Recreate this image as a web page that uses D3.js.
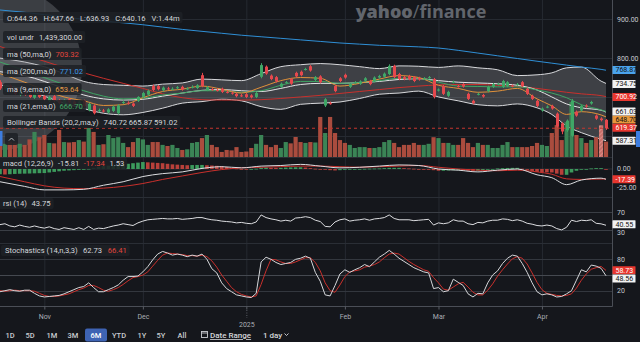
<!DOCTYPE html>
<html><head><meta charset="utf-8">
<script src="https://cdn.jsdelivr.net/npm/d3@7"></script>
<style>body{margin:0;background:#15171c;overflow:hidden}svg{display:block}</style>
</head><body>
<script>
// ---------------- DATA ----------------
const dates = ["2024-10-21","2024-10-22","2024-10-23","2024-10-24","2024-10-25","2024-10-28","2024-10-29","2024-10-30","2024-10-31",
"2024-11-01","2024-11-04","2024-11-05","2024-11-06","2024-11-07","2024-11-08","2024-11-11","2024-11-12","2024-11-13","2024-11-14","2024-11-15","2024-11-18","2024-11-19","2024-11-20","2024-11-21","2024-11-22","2024-11-25","2024-11-26","2024-11-27","2024-11-29",
"2024-12-02","2024-12-03","2024-12-04","2024-12-05","2024-12-06","2024-12-09","2024-12-10","2024-12-11","2024-12-12","2024-12-13","2024-12-16","2024-12-17","2024-12-18","2024-12-19","2024-12-20","2024-12-23","2024-12-24","2024-12-26","2024-12-27","2024-12-30","2024-12-31",
"2025-01-02","2025-01-03","2025-01-06","2025-01-07","2025-01-08","2025-01-10","2025-01-13","2025-01-14","2025-01-15","2025-01-16","2025-01-17","2025-01-21","2025-01-22","2025-01-23","2025-01-24","2025-01-27","2025-01-28","2025-01-29","2025-01-30","2025-01-31",
"2025-02-03","2025-02-04","2025-02-05","2025-02-06","2025-02-07","2025-02-10","2025-02-11","2025-02-12","2025-02-13","2025-02-14","2025-02-18","2025-02-19","2025-02-20","2025-02-21","2025-02-24","2025-02-25","2025-02-26","2025-02-27","2025-02-28",
"2025-03-03","2025-03-04","2025-03-05","2025-03-06","2025-03-07","2025-03-10","2025-03-11","2025-03-12","2025-03-13","2025-03-14","2025-03-17","2025-03-18","2025-03-19","2025-03-20","2025-03-21","2025-03-24","2025-03-25","2025-03-26","2025-03-27","2025-03-28","2025-03-31",
"2025-04-01","2025-04-02","2025-04-03","2025-04-04","2025-04-07","2025-04-08","2025-04-09","2025-04-10","2025-04-11","2025-04-14","2025-04-15","2025-04-16","2025-04-17","2025-04-21"];

const open = [738,720,730,716,705,718,707,698,712,702, 690,702,692,683,694,688,678,690,666,678, 664,665,660,664,658,686,685,683,690,700,
706,728,728,717,722,721,723,726,721,725, 723,756,718,720,718,721,713,711,708,704, 707,704,700,752,778,755,751,726,737,746,
762,765,771,779,744,753,678,684,728,748, 757,726,737,734,742,741,740,750,752,759, 780,759,751,754,751,749,747,750,746,717,
728,703,738,728,733,708,690,707,705,715, 726,733,726,728,729,732,738,721,703,690, 665,674,677,657,632,614,600,662,665,678,
683,652,644.36,641];
const high = [743,731,733,720,719,721,710,711,714,706, 703,705,695,695,697,691,691,693,685,681, 670,669,671,678,681,691,689,686,702,713,
719,732,731,727,726,725,728,729,725,730, 733,762,728,724,722,724,717,714,711,708, 710,707,713,787,781,758,754,737,741,749,
765,768,775,782,754,756,697,688,731,751, 760,736,741,743,751,744,753,757,763,784, 783,762,754,757,754,752,751,754,749,722,
731,716,742,731,736,711,693,711,708,729, 736,737,744,741,732,736,741,724,706,693, 673,678,680,660,635,642,695,665,680,681,
690,655,647.66,643];
const low = [718,716,712,705,702,703,697,695,697,690, 687,687,681,680,683,677,675,673,663,655, 660,660,657,661,655,682,680,674,687,697,
703,715,717,714,718,717,720,716,718,722, 720,725,715,716,714,710,709,706,699,700, 697,696,697,748,757,743,737,723,734,731,
750,753,768,765,741,735,674,680,712,738, 747,723,734,731,739,730,737,747,749,756, 748,743,743,743,738,742,744,747,696,714,
705,700,735,724,724,692,681,704,698,712, 723,730,723,725,725,729,725,705,692,674, 662,671,667,621,604,610,597,649,662,672,
680,641,636.93,615];
const close = [722,728,715,708,716,706,700,708,700,694, 700,690,684,692,686,680,688,676,682,658, 666,663,668,675,678,687,683,677,700,710,
716,718,720,724,721,721,725,719,722,726, 730,728,725,719,717,713,712,709,702,703, 700,699,710,782,760,746,740,734,738,734,
753,756,772,768,751,738,694,683,715,741, 750,733,738,740,748,733,750,754,760,780, 751,746,746,746,741,745,748,751,700,719,
708,713,739,727,727,695,684,708,701,726, 733,734,741,738,728,733,728,708,695,677, 670,675,670,624,611,639,690,652,677,675,
687,644,640.16,619.37];
// volume in millions
const volume = [0.77,0.6,0.7,0.65,0.6,0.55,0.8,1.14,0.9,1.0, 0.64,0.62,1.23,0.68,0.66,0.68,0.77,0.7,1.32,1.14, 0.55,0.58,1.0,0.86,0.9,0.64,0.45,0.68,0.86,0.8,
0.55,0.68,0.68,0.55,0.5,0.55,0.41,0.32,0.35,0.64, 0.68,0.86,1.0,0.55,0.45,0.23,0.32,0.3,0.45,0.23, 0.25,0.41,0.6,1.0,0.55,0.45,0.55,0.41,0.68,0.62,
0.91,0.68,0.64,0.68,0.66,1.82,1.09,1.82,1.09,0.77, 0.64,0.55,0.41,0.45,0.45,0.41,0.41,0.45,0.68,0.77, 0.64,0.45,0.55,0.55,0.64,0.55,0.55,0.6,0.9,0.86,
0.64,0.64,0.55,0.55,0.86,0.64,0.45,0.64,0.55,0.55, 0.41,0.41,0.55,0.68,0.45,0.45,0.45,0.45,0.5,0.64, 0.55,0.5,1.09,1.45,0.77,1.59,2.5,1.0,0.86,0.64,
0.77,0.9,1.44,0.7];

// smooth overlay lines, read at these candle indices
const sIdx  = [0,5,9,13,17,21,25,29,33,37,41,45,49,53,57,61,65,69,73,77,81,85,89,93,97,101,105,109,112,115,118,122,123];
const ma200 = [924,918,912,906,900,895,891,886,880,874,869,864,859,855,851,847,843,839,836,833,831,829,826,820,813,806,799,792,787,782,777,771.02,768.87];
const ma50  = [830,808,792,776,762,748,735,722,708,698,693,692,692,693,696,700,704,709,714,719,724,728,731,732,732,730,727,722,717,712,708,703.32,700.92];
const ema9  = [760,738,718,700,690,678,680,698,714,720,728,720,710,725,742,750,748,728,735,746,755,750,730,722,712,715,722,695,677,655,662,653.64,648.70];
const ema21 = [790,768,750,732,716,702,695,697,705,710,716,716,712,716,730,740,740,735,737,742,748,748,738,728,727,726,726,718,710,698,680,666.70,662.4];
const bbUpper = [800,790,778,760,740,732,730,728,733,736,746,744,742,760,778,783,786,783,778,773,780,779,776,780,775,770,755,757,762,775,777,740.72,734.75];
const bbMid   = [765,755,740,722,705,695,692,694,702,710,717,719,716,714,722,732,735,735,737,740,745,747,742,738,736,734,730,718,700,682,672,665.87,661.03];
const bbLower = [730,720,702,684,670,658,654,660,671,684,688,694,690,675,668,681,684,687,696,707,710,715,700,690,680,677,682,672,655,625,608,591.02,587.31];
const macdLine   = [-22,-30,-36,-36,-35,-28,-22,-13,-8,-5,1,4,2,5,6,8,5,2,3,5,7,6,0,-2,-5,-2,0,-10,-15,-27,-19,-15.81,-17.6];
const signalLine = [-13,-22,-29,-33,-34,-33,-30,-25,-18,-12,-6,-1,2,3,4,5,5,4,3,4,5,6,3,0,-2,-3,-2,-5,-9,-17,-18,-17.34,-17.39];
const macdHist = [-9,-9.5,-9,-8.5,-8.2,-8,-7.8,-7.5,-7.2,-7, -6,-5,-4,-3,-2.5,-2,-1.5,-1,0.5,2, 3.5,5,5.8,6.5,7.2,8,9,10,11,12,
11.5,11,10.5,10,9,8,7.5,7,6.5,6.8, 7,7,6.5,6,5.5,5,3.5,2,1,0, -0.5,-0.5,0.5,2,2.5,2.2,2,2,2.5,2.8, 3,3,2.5,1.5,0.5,0,-1,-2,-2.5,-2,
-1.5,-1,-0.5,0,0.3,0.6,0.8,1,1.5,2, 2,2,1.5,1,0.5,0,-0.5,-1,-2,-3, -3,-2.5,-2,-2,-2.5,-3,-3.2,-3,-2,-1, 0,1,1.5,1.8,2,2,0.5,-1.5,-3.5,-5,
-5.5,-5.8,-6,-8,-10,-10,-6,-3,-1,0, 1,1.5,1.53,-0.21];
const rsi = [42,44,39,37,41,38,36,39,36,34, 37,33,31,35,33,31,35,31,38,31, 34,33,36,39,41,44,42,40,46,50, 53,54,55,56,55,55,56,54,55,56,
58,58,55,53,52,50,49,48,46,47, 45,44,48,64,58,55,53,50,52,50, 57,58,60,58,52,49,38,37,48,53, 55,50,52,53,55,52,55,56,58,64,
56,53,53,53,51,52,53,54,41,46, 44,46,53,50,50,44,42,47,46,50, 52,52,55,54,51,53,50,45,43,40, 39,41,39,33,30,36,52,49,52,51,
53,45,43.75,40.55];
const stochK = [18,20,22,20,19,21,21,15,10,8, 9,10,11,14,18,22,26,28,35,26, 18,18,22,26,31,40,47,47,48,56, 66,79,90,95,92,88,90,88,85,88,
86,90,80,62,54,35,24,18,12,10, 8,7,15,75,84,80,74,70,72,74, 80,82,86,82,55,38,12,10,30,52, 60,55,60,64,70,66,75,84,90,97,
90,82,76,70,64,60,56,54,24,26, 18,20,42,36,30,14,8,15,14,35, 50,58,72,82,88,86,72,55,35,18, 12,14,12,8,9,14,20,40,60,56,
69,67,62.73,48.56];
const stochD = [20,19,20,21,20,20,20,19,15,11, 9,9,10,12,14,18,22,25,30,30, 26,21,19,22,26,32,39,45,47,50, 56,67,78,88,92,91,90,89,87,87,
86,88,85,77,65,50,38,26,18,13, 10,8,10,32,58,80,79,75,72,72, 75,79,83,83,74,58,35,20,17,31, 47,56,58,60,65,67,70,75,83,90,
92,90,83,76,70,65,60,57,45,35, 23,21,27,33,36,27,17,12,12,21, 33,48,60,71,81,85,82,71,54,36, 22,15,13,11,10,11,14,25,40,52,
61,64,66.41,58.73];

const monthTicks = ["2024-11-01","2024-12-02","2025-01-02","2025-02-03","2025-03-03","2025-04-01"];
const monthLabels = ["Nov","Dec","2025","Feb","Mar","Apr"];
const priceTicks = [900, 800];
const lastPrice = 619.37;
const rangeButtons = ["1D","5D","1M","3M","6M","YTD","1Y","5Y","All"];

// ---------------- CHART ----------------
const FONT = "Roboto, 'Liberation Sans', 'DejaVu Sans', sans-serif";
const svg = d3.select("body").append("svg").attr("width",640).attr("height",342)
  .style("font-family", FONT);
svg.append("rect").attr("width",640).attr("height",342).attr("fill","#15171c");

const PR = 612; // plot right edge
const x = d3.scalePoint().domain(dates).range([0, 606]);
const yP = d3.scaleLinear().domain([600, 900]).range([135.76, 19.3]);
const yV = d3.scaleLinear().domain([0, 2.5]).range([157, 102]);
const yM = d3.scaleLinear().domain([-40, 20]).range([192.2, 157.4]);
const yR = d3.scaleLinear().domain([30, 70]).range([229.9, 212.3]);
const yS = d3.scaleLinear().domain([20, 80]).range([290.7, 259.3]);

const defs = svg.append("defs");
function clip(id, y0, h){ defs.append("clipPath").attr("id",id).append("rect").attr("x",0).attr("y",y0).attr("width",PR).attr("height",h); }
clip("cp",0,157); clip("cm",157,40); clip("cr",197,46); clip("cs",243,63);
const pat = defs.append("pattern").attr("id","hatch").attr("width",3).attr("height",3).attr("patternUnits","userSpaceOnUse").attr("patternTransform","rotate(45)");
pat.append("rect").attr("width",3).attr("height",3).attr("fill","#c9706a");
pat.append("line").attr("x1",0).attr("y1",0).attr("x2",0).attr("y2",3).attr("stroke","#e8a19b").attr("stroke-width",1.2);

// grid
const grid = svg.append("g");
grid.selectAll("line.v").data(monthTicks).join("line")
  .attr("x1",d=>x(d)+0.5).attr("x2",d=>x(d)+0.5).attr("y1",0).attr("y2",306)
  .attr("stroke","#262a31").attr("stroke-width",1);
grid.selectAll("line.h").data([900,800,700,600]).join("line")
  .attr("x1",0).attr("x2",PR).attr("y1",d=>Math.round(yP(d))+0.5).attr("y2",d=>Math.round(yP(d))+0.5)
  .attr("stroke","#262a31");
[157.5,197.5,243.5].forEach(y=>svg.append("line").attr("x1",0).attr("x2",PR).attr("y1",y).attr("y2",y).attr("stroke","#2a2e35"));

// ---------- price panel ----------
const gp = svg.append("g").attr("clip-path","url(#cp)");
const sPts = (arr)=> sIdx.map((k,j)=>[x(dates[k]), arr[j]]);
const areaBB = d3.area().x((d,j)=>x(dates[sIdx[j]])).y0((d,j)=>yP(bbLower[j])).y1((d,j)=>yP(bbUpper[j])).curve(d3.curveMonotoneX);
gp.append("path").datum(sIdx).attr("d",areaBB).attr("fill","rgba(130,132,138,0.38)");
const lineS = (y)=> d3.line().x(d=>d[0]).y(d=>y(d[1])).curve(d3.curveMonotoneX);
[[bbUpper,"#d8d9dc"],[bbLower,"#d8d9dc"]].forEach(([a,c])=>gp.append("path").attr("d",lineS(yP)(sPts(a))).attr("fill","none").attr("stroke",c).attr("stroke-width",1));

// circular lens overlay
gp.append("circle").attr("cx",0).attr("cy",68).attr("r",82).attr("fill","rgba(150,152,158,0.3)");

// volume
const bw = 4.2;
gp.selectAll("rect.vol").data(dates).join("rect")
  .attr("x",d=>x(d)-bw/2).attr("width",bw)
  .attr("y",(d,i)=>yV(volume[i])).attr("height",(d,i)=>157-yV(volume[i]))
  .attr("fill",(d,i)=> i===122 ? "url(#hatch)" : (close[i]>=open[i] ? "#3b8556" : "#aa4c3e"));

gp.append("line").attr("x1",0).attr("x2",PR).attr("y1",yP(lastPrice)).attr("y2",yP(lastPrice))
  .attr("stroke","#c7362f").attr("stroke-dasharray","3,3").attr("stroke-width",1);

[[ma200,"#2f8fd6"],[ma50,"#c9302c"],[bbMid,"#e4e4e6"],[ema21,"#3fa564"],[ema9,"#e0913a"]]
  .forEach(([a,c])=>gp.append("path").attr("d",lineS(yP)(sPts(a))).attr("fill","none").attr("stroke",c).attr("stroke-width",1));

const cg = gp.append("g");
dates.forEach((d,i)=>{
  const up = close[i]>=open[i];
  const col = up ? "#3fa766" : "#e5484d";
  const cx = Math.round(x(d))+0.5;
  cg.append("line").attr("x1",cx).attr("x2",cx).attr("y1",yP(high[i])).attr("y2",yP(low[i])).attr("stroke",col).attr("stroke-width",1);
  const y1 = yP(Math.max(open[i],close[i])), y2 = yP(Math.min(open[i],close[i]));
  cg.append("rect").attr("x",cx-1.5).attr("width",3).attr("y",y1).attr("height",Math.max(1,y2-y1)).attr("fill",col);
});

// ---------- MACD ----------
const gm = svg.append("g").attr("clip-path","url(#cm)");
gm.append("line").attr("x1",0).attr("x2",PR).attr("y1",yM(0)).attr("y2",yM(0)).attr("stroke","#2a2e35");
gm.selectAll("rect").data(dates).join("rect")
  .attr("x",d=>x(d)-1.8).attr("width",3.6)
  .attr("y",(d,i)=>Math.min(yM(0),yM(macdHist[i]))).attr("height",(d,i)=>Math.max(0.8,Math.abs(yM(macdHist[i])-yM(0))))
  .attr("fill",(d,i)=> (i===0 || macdHist[i]>=macdHist[i-1]) ? "#3c9a5c" : "#b8403a");
gm.append("path").attr("d",lineS(yM)(sPts(signalLine))).attr("fill","none").attr("stroke","#c9302c").attr("stroke-width",1);
gm.append("path").attr("d",lineS(yM)(sPts(macdLine))).attr("fill","none").attr("stroke","#dcdde0").attr("stroke-width",1);

// ---------- RSI ----------
const gr = svg.append("g").attr("clip-path","url(#cr)");
[70,30].forEach(v=>gr.append("line").attr("x1",0).attr("x2",PR).attr("y1",Math.round(yR(v))+0.5).attr("y2",Math.round(yR(v))+0.5).attr("stroke","#3a3e45"));
const lineI = (y)=> d3.line().x((d,i)=>x(dates[i])).y(d=>y(d));
gr.append("path").attr("d",lineI(yR)(rsi)).attr("fill","none").attr("stroke","#dcdde0").attr("stroke-width",1);

// ---------- Stochastics ----------
const gs = svg.append("g").attr("clip-path","url(#cs)");
[80,50,20].forEach(v=>gs.append("line").attr("x1",0).attr("x2",PR).attr("y1",Math.round(yS(v))+0.5).attr("y2",Math.round(yS(v))+0.5).attr("stroke",v===50?"#454950":"#33373e"));
gs.append("path").attr("d",lineI(yS)(stochD)).attr("fill","none").attr("stroke","#c9302c").attr("stroke-width",1);
gs.append("path").attr("d",lineI(yS)(stochK)).attr("fill","none").attr("stroke","#d6d7da").attr("stroke-width",1);

// ---------- axes frame ----------
svg.append("line").attr("x1",PR+0.5).attr("x2",PR+0.5).attr("y1",0).attr("y2",306.5).attr("stroke","#4a4e56");
svg.append("line").attr("x1",0).attr("x2",PR+0.5).attr("y1",306.5).attr("y2",306.5).attr("stroke","#4a4e56");

const axT = (txt,y)=> svg.append("text").attr("x",617).attr("y",y).attr("dy","0.35em").attr("font-size",7).attr("fill","#c6c9ce").text(txt);
priceTicks.forEach(p=>axT(d3.format(".2f")(p), yP(p)));
axT("0.00", yM(0)); axT("-25.00", 187.5);
axT("70", yR(70)); axT("30", 232.5);
axT("80", yS(80)); axT("20", yS(20));

function badge(y, txt, bg, fg){
  svg.append("rect").attr("x",612.5).attr("y",y-4).attr("width",23).attr("height",8).attr("fill",bg).attr("rx",0.5);
  svg.append("text").attr("x",615.5).attr("y",y).attr("dy","0.35em").attr("font-size",7).attr("fill",fg).text(txt);
}
badge(70,"768.87","#4aa3ec","#111");
badge(84,"734.75","#f2f2f2","#111");
badge(97,"700.92","#e8362e","#fff");
badge(119.6,"648.70","#e8983c","#111");
badge(111.5,"661.03","#f2f2f2","#111");
badge(127.7,"619.37","#e8362e","#fff");
badge(140.7,"587.31","#f2f2f2","#111");
badge(179.3,"-17.39","#e8362e","#fff");
badge(224.3,"40.55","#f2f2f2","#111");
badge(270.3,"58.73","#e8362e","#fff");
badge(278.5,"48.56","#f2f2f2","#111");
svg.append("rect").attr("x",636).attr("y",131).attr("width",4).attr("height",16).attr("fill","#3d7de0");

// x axis
const xAxis = svg.append("g").attr("transform","translate(0,306.5)")
  .call(d3.axisBottom(x).tickValues(monthTicks).tickSize(3).tickFormat((d,i)=>monthLabels[i]));
xAxis.select(".domain").remove();
xAxis.selectAll("line").attr("stroke","#5a5e66");
xAxis.selectAll("text").attr("font-size",7).attr("fill","#a9adb4").attr("font-family",FONT).attr("dy","0.9em")
  .filter((d,i)=>monthLabels[i]==="2025").attr("dy","2.05em");
svg.append("line").attr("x1",x("2025-01-02")+0.5).attr("x2",x("2025-01-02")+0.5).attr("y1",310).attr("y2",318)
  .attr("stroke","#5a5e66").attr("stroke-dasharray","1,1.5");

// ---------- legends (flowed so parts never collide) ----------
function legendRow(x0, yBase, parts, gap, boxY, boxH){
  const bg = svg.append("rect").attr("y",boxY).attr("height",boxH).attr("rx",2).attr("fill","rgba(30,33,38,0.88)");
  let cx = x0;
  parts.forEach(([t,c])=>{
    const el = svg.append("text").attr("x",cx).attr("y",yBase).attr("font-size",7.6).attr("fill",c||"#d5d7db").text(t);
    cx += el.node().getComputedTextLength() + gap;
  });
  bg.attr("x",x0-4).attr("width",cx-gap-x0+7);
}
legendRow(7,20.5,[["O:644.36"],["H:647.66"],["L:636.93"],["C:640.16"],["V:1.44m"]],6,12,11);
legendRow(7,40,[["vol undr"],["1,439,300.00"]],5,31,12);
legendRow(7,57,[["ma (50,ma,0)"],["703.32","#e2453c"]],4,48,12);
legendRow(7,74,[["ma (200,ma,0)"],["771.02","#3d9be9"]],4,65,12);
legendRow(7,92,[["ma (9,ema,0)"],["653.64","#e39a45"]],4,83,12);
legendRow(7,109,[["ma (21,ema,0)"],["666.70","#43a866"]],4,100,12);
legendRow(7,125,[["Bollinger Bands (20,2,ma,y)"],["740.72 665.87 591.02"]],5,116,12);
svg.append("rect").attr("x",0).attr("y",131).attr("width",2.5).attr("height",15).attr("fill","#3d7de0");
svg.append("rect").attr("x",5).attr("y",133).attr("width",13).attr("height",12).attr("rx",2).attr("fill","rgba(30,33,38,0.88)");
svg.append("path").attr("d","M9,140.5 L11.5,138 L14,140.5").attr("fill","none").attr("stroke","#c6c9ce").attr("stroke-width",0.9);
legendRow(3,166,[["macd (12,26,9)"],["-15.81"],["-17.34","#e2453c"],["1.53"]],4.5,158,11);
legendRow(3,206,[["rsi (14)"],["43.75"]],4.5,198,11);
legendRow(5,253,[["Stochastics (14,n,3,3)"],["62.73"],["66.41","#e2453c"]],5.5,245,11);

// watermark
const wm = svg.append("text").attr("x",421).attr("y",18).attr("text-anchor","middle").attr("font-size",18).attr("fill","#62666d").attr("font-family","'Open Sans', Lato, sans-serif");
wm.append("tspan").attr("font-weight",800).text("yahoo");
wm.append("tspan").attr("font-weight",400).text("/");
wm.append("tspan").attr("font-weight",700).text("finance");

// ---------- bottom nav ----------
const navX = [10,30,52,73,96,119,142,161,182];
svg.append("rect").attr("x",85).attr("y",328.5).attr("width",22).attr("height",13).attr("rx",2).attr("fill","#3e63b3");
rangeButtons.forEach((b,i)=>svg.append("text").attr("x",navX[i]).attr("y",338).attr("text-anchor","middle").attr("font-size",7.5)
  .attr("font-weight",500).attr("fill", b==="6M" ? "#ffffff" : "#c9ccd1").text(b));
svg.append("rect").attr("x",201.5).attr("y",331.5).attr("width",6).attr("height",6).attr("fill","none").attr("stroke","#c9ccd1").attr("stroke-width",0.9);
svg.append("line").attr("x1",201.5).attr("x2",207.5).attr("y1",333).attr("y2",333).attr("stroke","#c9ccd1").attr("stroke-width",0.9);
svg.append("text").attr("x",210).attr("y",338).attr("font-size",8).attr("font-weight",500).attr("fill","#d5d7db").attr("text-decoration","underline").text("Date Range");
svg.append("text").attr("x",263).attr("y",338).attr("font-size",8).attr("font-weight",500).attr("fill","#d5d7db").text("1 day");
svg.append("path").attr("d","M284.5,333.5 L286.5,335.5 L288.5,333.5").attr("fill","none").attr("stroke","#d5d7db").attr("stroke-width",0.9);
</script>
</body></html>
